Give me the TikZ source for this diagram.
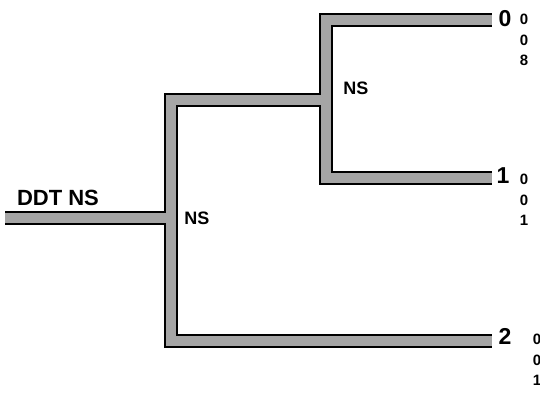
\documentclass[tikz,border=0pt]{standalone}
\usepackage{fontspec}
\setmainfont{Liberation Sans}
\usepackage{xcolor}
\usepackage{tikz}
\usetikzlibrary{positioning}
\definecolor{barfill}{RGB}{165,165,165}

\begin{document}
\begin{tikzpicture}[font=\bfseries, x=0.5pt, y=-0.5pt,
    barout/.style={line width=7pt, black},
    barin/.style={line width=5pt, barfill},
    lbl/.style={inner sep=0pt, font=\bfseries\fontsize{9}{9}\selectfont},
    leaf/.style={inner sep=0pt, font=\bfseries\fontsize{11.5}{11.5}\selectfont},
    col/.style={inner sep=0pt, align=center, font=\bfseries\fontsize{7.5}{10.2}\selectfont}]
  \useasboundingbox (0,0) rectangle (540,394);
  % points of the tree
  \coordinate (root) at (5,218);
  \coordinate (ns1) at (171,218);
  \coordinate (ns2) at (326,100);
  \coordinate (out0) at (492,20);
  \coordinate (out1) at (492,178);
  \coordinate (out2) at (492,341);
  % outline first, then the grey core
  \foreach \s in {barout,barin} {
    \draw[\s] (root) -- (ns1);
    \draw[\s] (ns1) |- (ns2);
    \draw[\s] (ns1) |- (out2);
    \draw[\s] (ns2) |- (out0);
    \draw[\s] (ns2) |- (out1);
  }
  \node[font=\bfseries\fontsize{11}{11}\selectfont] (ddt) at (58,198) {DDT NS};
  \node[lbl, anchor=west] (lns1) at (184,218) {NS};
  \node[lbl, anchor=west] (lns2) at (343,88) {NS};
  \node[leaf] (n0) at (505,19) {0};
  \node[leaf] (n1) at (503,176) {1};
  \node[leaf] (n2) at (505,336) {2};
  \node[col] (c0) at (524,40) {0\\0\\8};
  \node[col] (c1) at (524,200) {0\\0\\1};
  \node[col] (c2) at (537,360) {0\\0\\1};
\end{tikzpicture}
\end{document}
